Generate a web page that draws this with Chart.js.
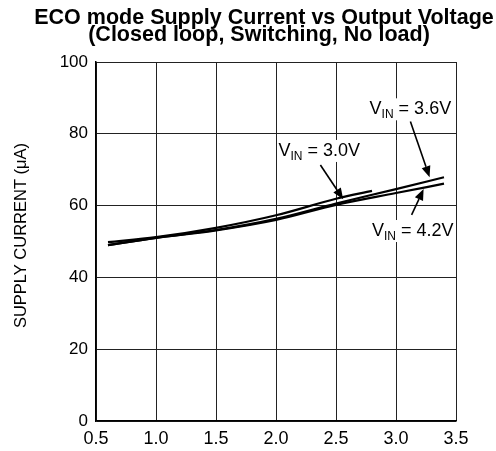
<!DOCTYPE html>
<html>
<head>
<meta charset="utf-8">
<script src="https://cdn.jsdelivr.net/npm/chart.js@4/dist/chart.umd.min.js"></script>
<style>
html,body{margin:0;padding:0;background:#fff;}
#wrap{width:496px;height:451px;}
</style>
</head>
<body>
<div id="wrap"><canvas id="c" width="496" height="451"></canvas></div>
<script>
const titleLines = ["ECO mode Supply Current vs Output Voltage", "(Closed loop, Switching, No load)"];
const yAxisTitle = "SUPPLY CURRENT (\u03bcA)";
const xTicks = [0.5, 1.0, 1.5, 2.0, 2.5, 3.0, 3.5];
const yTicks = [0, 20, 40, 60, 80, 100];

const vout30 = [0.6, 1.0, 1.5, 2.0, 2.5, 2.8];
const iq30   = [49.8, 51.2, 53.8, 57.3, 61.9, 64.1];
const vout36 = [0.6, 1.0, 1.5, 2.0, 2.5, 3.0, 3.4];
const iq36   = [49.0, 51.0, 53.2, 56.3, 60.6, 64.6, 67.9];
const vout42 = [0.6, 1.0, 1.5, 2.0, 2.5, 3.0, 3.4];
const iq42   = [49.0, 51.0, 53.1, 56.0, 60.2, 63.5, 66.1];

// annotation labels: [name, subscript, rest, x, y (data coords, left / middle)]
const labels = [
  ["V", "IN", " = 3.6V", 2.78, 87.1],
  ["V", "IN", " = 3.0V", 2.02, 75.5],
  ["V", "IN", " = 4.2V", 2.80, 53.2]
];
// arrows: [x0, y0, x1 (tip), y1 (tip)] in data coords
const arrows = [
  [3.12, 83.4, 3.28, 67.9],
  [2.37, 71.3, 2.56, 61.8],
  [3.13, 57.4, 3.23, 64.6]
];

const pts = (xs, ys) => xs.map((x, i) => ({x: x, y: ys[i]}));
const FONT = "'Liberation Sans', Arial, sans-serif";

const overlay = {
  id: 'overlay',
  afterDatasetsDraw(chart) {
    const ctx = chart.ctx, xs = chart.scales.x, ys = chart.scales.y;
    ctx.save();
    // labels
    labels.forEach(l => {
      const x = xs.getPixelForValue(l[3]), y = ys.getPixelForValue(l[4]);
      ctx.font = "18px " + FONT;
      const w1 = ctx.measureText(l[0]).width;
      ctx.font = "12px " + FONT;
      const w2 = ctx.measureText(l[1]).width;
      ctx.font = "18px " + FONT;
      const w3 = ctx.measureText(l[2]).width;
      ctx.fillStyle = '#fff';
      ctx.fillRect(x - 1, y - 10, w1 + w2 + w3 + 2, 22);
      ctx.fillStyle = '#000';
      ctx.textBaseline = 'alphabetic';
      ctx.textAlign = 'left';
      ctx.font = "18px " + FONT;
      ctx.fillText(l[0], x, y + 6);
      ctx.font = "12px " + FONT;
      ctx.fillText(l[1], x + w1, y + 10);
      ctx.font = "18px " + FONT;
      ctx.fillText(l[2], x + w1 + w2, y + 6);
    });
    // arrows
    ctx.strokeStyle = '#000';
    ctx.fillStyle = '#000';
    ctx.lineWidth = 1.6;
    arrows.forEach(a => {
      const x0 = xs.getPixelForValue(a[0]), y0 = ys.getPixelForValue(a[1]);
      const x1 = xs.getPixelForValue(a[2]), y1 = ys.getPixelForValue(a[3]);
      const ang = Math.atan2(y1 - y0, x1 - x0);
      const hl = 11, hw = 4.5;
      const bx = x1 - hl * Math.cos(ang), by = y1 - hl * Math.sin(ang);
      ctx.beginPath();
      ctx.moveTo(x0, y0);
      ctx.lineTo(bx, by);
      ctx.stroke();
      ctx.beginPath();
      ctx.moveTo(x1, y1);
      ctx.lineTo(bx + hw * Math.sin(ang), by - hw * Math.cos(ang));
      ctx.lineTo(bx - hw * Math.sin(ang), by + hw * Math.cos(ang));
      ctx.closePath();
      ctx.fill();
    });
    // title
    ctx.textAlign = 'center';
    ctx.textBaseline = 'alphabetic';
    ctx.font = "bold 21.5px " + FONT;
    ctx.fillText(titleLines[0], 264, 24);
    ctx.fillText(titleLines[1], 259, 41);
    // y axis title
    ctx.font = "16.5px " + FONT;
    ctx.translate(21, (chart.chartArea.top + chart.chartArea.bottom) / 2 - 6);
    ctx.rotate(-Math.PI / 2);
    ctx.textBaseline = 'middle';
    ctx.fillText(yAxisTitle, 0, 0);
    ctx.restore();
  }
};

const lineDs = (label, data) => ({
  label: label, data: data, borderColor: '#000', borderWidth: 2.2,
  pointRadius: 0, fill: false, cubicInterpolationMode: 'monotone'
});

new Chart(document.getElementById('c'), {
  type: 'line',
  data: {
    datasets: [
      lineDs('VIN = 3.0V', pts(vout30, iq30)),
      lineDs('VIN = 3.6V', pts(vout36, iq36)),
      lineDs('VIN = 4.2V', pts(vout42, iq42))
    ]
  },
  options: {
    responsive: false,
    animation: false,
    layout: {padding: {left: 0, top: 62, right: 40, bottom: 0}},
    plugins: {legend: {display: false}, tooltip: {enabled: false}, title: {display: false}},
    scales: {
      x: {
        type: 'linear', min: 0.5, max: 3.5,
        afterBuildTicks: s => { s.ticks = xTicks.map(v => ({value: v})); },
        afterFit: s => { s.height = 30; },
        grid: {color: '#222', lineWidth: 1, drawTicks: false},
        border: {color: '#000', width: 1.5},
        ticks: {color: '#000', font: {family: FONT, size: 18}, padding: 7, maxRotation: 0,
                callback: v => v.toFixed(1)}
      },
      y: {
        type: 'linear', min: 0, max: 100,
        afterBuildTicks: s => { s.ticks = yTicks.map(v => ({value: v})); },
        afterFit: s => { s.width = 96; },
        grid: {color: '#222', lineWidth: 1, drawTicks: false},
        border: {color: '#000', width: 1.5},
        ticks: {color: '#000', font: {family: FONT, size: 17}, padding: 8}
      }
    }
  },
  plugins: [overlay]
});
</script>
</body>
</html>
